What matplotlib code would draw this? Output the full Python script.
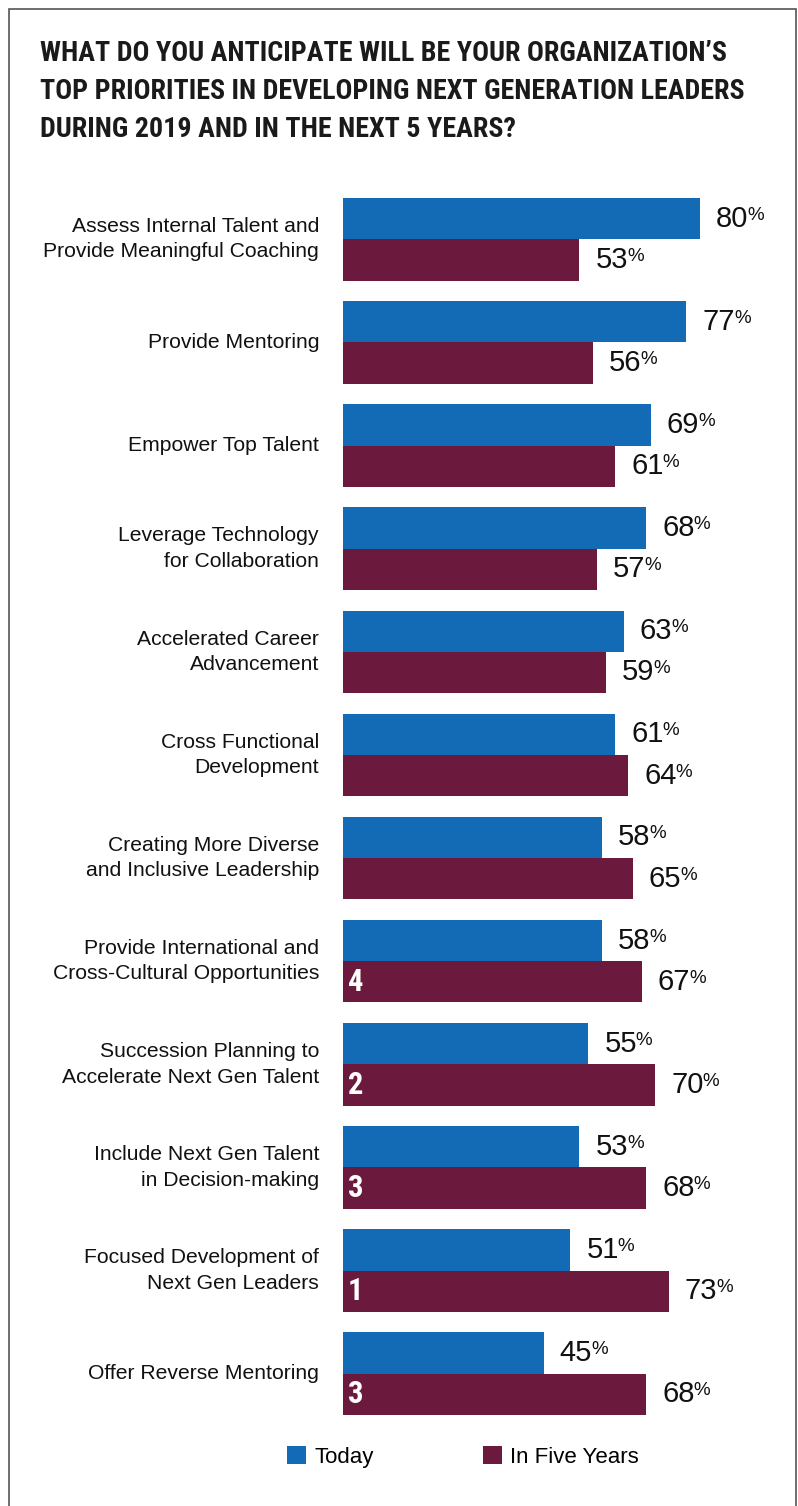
import numpy as np
import matplotlib
matplotlib.use("Agg")
import matplotlib.pyplot as plt
from matplotlib.patches import Patch, Rectangle
from matplotlib import font_manager

# ---------------- data ----------------
categories = [
    "Assess Internal Talent and\nProvide Meaningful Coaching",
    "Provide Mentoring",
    "Empower Top Talent",
    "Leverage Technology\nfor Collaboration",
    "Accelerated Career\nAdvancement",
    "Cross Functional\nDevelopment",
    "Creating More Diverse\nand Inclusive Leadership",
    "Provide International and\nCross-Cultural Opportunities",
    "Succession Planning to\nAccelerate Next Gen Talent",
    "Include Next Gen Talent\nin Decision-making",
    "Focused Development of\nNext Gen Leaders",
    "Offer Reverse Mentoring",
]
today = [80, 77, 69, 68, 63, 61, 58, 58, 55, 53, 51, 45]
five_years = [53, 56, 61, 57, 59, 64, 65, 67, 70, 68, 73, 68]
five_year_rank = [None, None, None, None, None, None, None, 4, 2, 3, 1, 3]
series_labels = ["Today", "In Five Years"]
title = ("WHAT DO YOU ANTICIPATE WILL BE YOUR ORGANIZATION\u2019S\n"
         "TOP PRIORITIES IN DEVELOPING NEXT GENERATION LEADERS\n"
         "DURING 2019 AND IN THE NEXT 5 YEARS?")

# ---------------- style ----------------
BLUE = "#146BB5"
MAROON = "#6B1A3E"
installed = {f.name for f in font_manager.fontManager.ttflist}
def pick(cands):
    for c in cands:
        if c in installed:
            return c
    return "DejaVu Sans"
COND = pick(["Liberation Sans Narrow", "Roboto Condensed", "Open Sans Condensed", "DejaVu Sans"])
SANS = pick(["Liberation Sans", "Arimo", "DejaVu Sans"])

W, H = 798, 1506
fig = plt.figure(figsize=(W / 100, H / 100), dpi=100)
def fx(px): return px / W
def fy(py): return 1 - py / H

# frame border
fig.patches.append(Rectangle((fx(9), fy(1510)), fx(796) - fx(9), fy(9) - fy(1510),
                             transform=fig.transFigure, fill=False,
                             edgecolor="#555555", linewidth=1.2))

# title
fig.text(fx(40), fy(40), title, ha="left", va="top", family=COND,
         fontweight="bold", fontsize=20.2, color="#1a1a1a", linespacing=1.52)

# axes: x 0..100 mapped to px 343..789
ax_top, ax_bot = 198, 1415
ax = fig.add_axes([fx(343), fy(ax_bot), 446 / W, (ax_bot - ax_top) / H])
n = len(categories)
y = np.arange(n)
bh = 0.4
ax.barh(y - bh / 2, today, height=bh, color=BLUE, edgecolor="none")
ax.barh(y + bh / 2, five_years, height=bh, color=MAROON, edgecolor="none")
ax.set_xlim(0, 100)
ax.set_ylim(n - 1 + bh, -bh)
ax.axis("off")

# category labels
for i, cat in enumerate(categories):
    ax.annotate(cat, xy=(0, i), xytext=(-24 * 0.72, 0), textcoords="offset points",
                ha="right", va="center", family=SANS, fontsize=15.2,
                color="#111111", linespacing=1.43, annotation_clip=False)

# value labels
num_texts = []
for vals, off in ((today, -bh / 2), (five_years, bh / 2)):
    for i, v in enumerate(vals):
        t = ax.annotate(f"{v}", xy=(v, i + off), xytext=(16 * 0.72, 0),
                        textcoords="offset points", ha="left", va="center",
                        family=SANS, fontsize=21, color="#111111",
                        annotation_clip=False)
        num_texts.append(t)

# rank numbers inside maroon bars
for i, r in enumerate(five_year_rank):
    if r is not None:
        ax.annotate(f"{r}", xy=(0, i + bh / 2), xytext=(5 * 0.72, 0),
                    textcoords="offset points", ha="left", va="center",
                    family=COND, fontweight="bold", fontsize=22, color="white")

# percent signs placed after each number
fig.canvas.draw()
renderer = fig.canvas.get_renderer()
for t in num_texts:
    bb = t.get_window_extent(renderer)
    fig.text(bb.x1 - 1, bb.y1 - 2, "%", transform=None, ha="left", va="top",
             family=SANS, fontsize=13.5, color="#111111")

# legend
handles = [Patch(facecolor=BLUE, edgecolor="none"),
           Patch(facecolor=MAROON, edgecolor="none")]
fig.legend(handles, series_labels, loc="center left",
           bbox_to_anchor=(fx(287), fy(1457)), ncol=2, frameon=False,
           prop={"family": SANS, "size": 16}, handlelength=0.86, handleheight=0.86,
           handletextpad=0.38, columnspacing=4.9, borderpad=0, borderaxespad=0)

fig.savefig("out.png", dpi=100, facecolor="white")
